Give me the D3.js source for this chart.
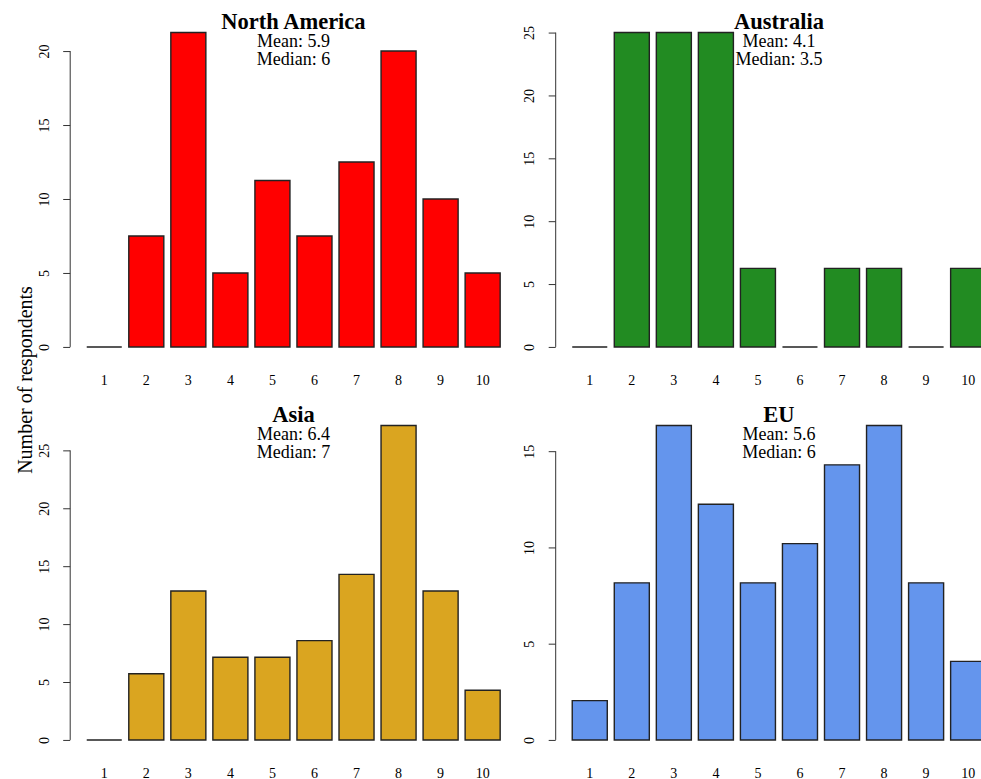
<!DOCTYPE html>
<html>
<head>
<meta charset="utf-8">
<script src="https://cdn.jsdelivr.net/npm/d3@7/dist/d3.min.js"></script>
<style>
  html, body { margin: 0; padding: 0; background: #fff; overflow: hidden; }
  svg { display: block; }
  text { font-family: "Liberation Serif", "Times New Roman", serif; fill: #000; }
</style>
</head>
<body>
<svg id="chart" width="981" height="779"></svg>
<script>
// Answer categories (1-10 scale)
const categories = ["1", "2", "3", "4", "5", "6", "7", "8", "9", "10"];

// Region names, in panel order (row by row)
const regions = ["North America", "Australia", "Asia", "EU"];

// Share of respondents (%) choosing each answer, per region
const northAmerica = [0, 7.5, 21.25, 5, 11.25, 7.5, 12.5, 20, 10, 5];
const australia    = [0, 25, 25, 25, 6.25, 0, 6.25, 6.25, 0, 6.25];
const asia         = [0, 5.71, 12.86, 7.14, 7.14, 8.57, 14.29, 27.14, 12.86, 4.29];
const eu           = [2.04, 8.16, 16.33, 12.24, 8.16, 10.20, 14.29, 16.33, 8.16, 4.08];

// Summary statistics printed under each title
const means   = ["5.9", "4.1", "6.4", "5.6"];
const medians = ["6", "3.5", "7", "6"];

// Y-axis tick labels per panel
const yTicksNA   = [0, 5, 10, 15, 20];
const yTicksAU   = [0, 5, 10, 15, 20, 25];
const yTicksAsia = [0, 5, 10, 15, 20, 25];
const yTicksEU   = [0, 5, 10, 15];

const seriesList = [northAmerica, australia, asia, eu];
const tickList = [yTicksNA, yTicksAU, yTicksAsia, yTicksEU];
const colours = ["#FF0000", "#228B22", "#DAA520", "#6495ED"];

const svg = d3.select("#chart");

// Plot-region geometry
const plotW = 446.5;
const plotH = 339.5;
const colX = [70.2, 555.7];
const rowY = [20, 413];

// Bar layout: width 1, gap 0.2, range padded by 4% on each side
const space = 0.2, barW = 1;
const xMin = space, xMax = categories.length * (barW + space);
const xPad = (xMax - xMin) * 0.04;

seriesList.forEach((values, i) => {
  const col = i % 2, row = Math.floor(i / 2);
  const left = colX[col], top = rowY[row];

  const g = svg.append("g");

  const x = d3.scaleLinear()
    .domain([xMin - xPad, xMax + xPad])
    .range([left, left + plotW]);

  const yMaxVal = d3.max(values);
  const yPad = yMaxVal * 0.04;
  const y = d3.scaleLinear()
    .domain([-yPad, yMaxVal + yPad])
    .range([top + plotH, top]);

  // Bars (zero-height bars collapse to a line on the baseline)
  g.selectAll("path.bar")
    .data(values)
    .join("path")
    .attr("class", "bar")
    .attr("d", (v, k) => {
      const x0 = x(space + k * (barW + space));
      const x1 = x(space + k * (barW + space) + barW);
      const y0 = y(0), y1 = y(v);
      return `M${x0},${y0}H${x1}V${y1}H${x0}Z`;
    })
    .attr("fill", colours[i])
    .attr("stroke", "#222")
    .attr("stroke-width", 1.4);

  // Y axis: line spans first to last tick only
  const ticks = tickList[i];
  const axis = d3.axisLeft(y)
    .tickValues(ticks)
    .tickSize(7)
    .tickPadding(0)
    .tickFormat(d3.format("d"));
  const ag = g.append("g")
    .attr("transform", `translate(${left},0)`)
    .call(axis);
  ag.select(".domain").remove();
  ag.append("line")
    .attr("x1", 0).attr("x2", 0)
    .attr("y1", y(ticks[0])).attr("y2", y(ticks[ticks.length - 1]))
    .attr("stroke", "#333").attr("stroke-width", 1);
  ag.selectAll(".tick line").attr("stroke", "#333").attr("stroke-width", 1);
  ag.selectAll(".tick text")
    .attr("x", 0).attr("dy", null)
    .attr("transform", "translate(-26,0) rotate(-90)")
    .attr("text-anchor", "middle")
    .attr("dominant-baseline", "central")
    .style("font-family", "'Liberation Serif', serif")
    .style("font-size", "14px")
    .attr("fill", "#000");

  // Category labels under the bars
  g.selectAll("text.cat")
    .data(categories)
    .join("text")
    .attr("class", "cat")
    .attr("x", (c, k) => x(space + k * (barW + space) + barW / 2))
    .attr("y", top + plotH + 25.5)
    .attr("text-anchor", "middle")
    .style("font-size", "14px")
    .text(c => c);

  // Title and summary lines
  const cx = left + plotW / 2;
  g.append("text")
    .attr("x", cx).attr("y", top + 9.3)
    .attr("text-anchor", "middle")
    .style("font-size", "22.5px")
    .style("font-weight", "bold")
    .text(regions[i]);
  g.append("text")
    .attr("x", cx).attr("y", top + 27.3)
    .attr("text-anchor", "middle")
    .style("font-size", "18px")
    .text("Mean: " + means[i]);
  g.append("text")
    .attr("x", cx).attr("y", top + 45)
    .attr("text-anchor", "middle")
    .style("font-size", "18px")
    .text("Median: " + medians[i]);
});

// Shared y-axis title
svg.append("text")
  .attr("transform", "translate(32,380) rotate(-90)")
  .attr("text-anchor", "middle")
  .style("font-size", "20px")
  .text("Number of respondents");
</script>
</body>
</html>
